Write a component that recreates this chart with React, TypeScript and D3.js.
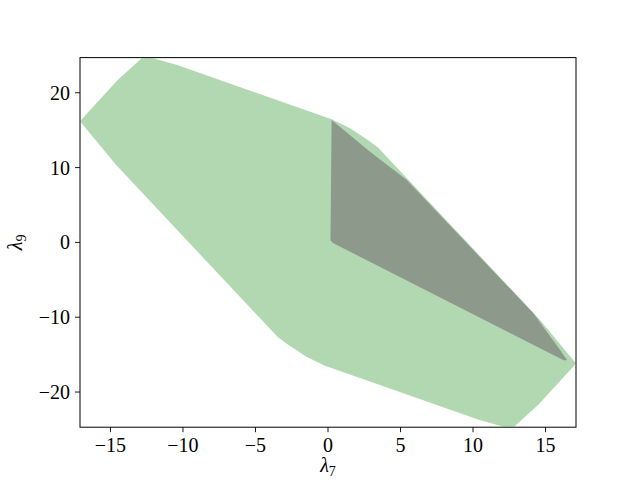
import React from "react";
import * as d3 from "d3";

const xTicks = [-15, -10, -5, 0, 5, 10, 15];
const yTicks = [-20, -10, 0, 10, 20];
const xDomain = [-17.1, 17.1];
const yDomain = [-24.7, 24.7];

// outer (feasible) region, green
const outerX = [-17.1, -16.4, -14.5, -12.85, -12.05, -10.4, 0.25, 1.52, 2.67, 3.45, 14.62, 17.1, 16.4, 14.5, 12.85, 12.05, 10.4, -0.25, -1.52, -2.67, -3.45, -14.62];
const outerY = [16.2, 17.7, 21.7, 24.6, 24.6, 23.7, 16.45, 15.25, 13.78, 12.69, -10.37, -16.2, -17.7, -21.7, -24.6, -24.6, -23.7, -16.45, -15.25, -13.78, -12.69, 10.37];

// inner region, gray
const innerX = [0.25, 2.9, 5.43, 14.16, 16.0, 16.48, 16.28, 0.34, 0.17];
const innerY = [16.36, 12.13, 8.34, -9.48, -14.39, -15.72, -15.79, -0.08, 0.3];

const W = 640, H = 480;
const L = 80, T = 57.6, PW = 496, PH = 369.6;
const FONT = "'Liberation Serif', 'DejaVu Serif', serif";

export default function App() {
  const x = d3.scaleLinear().domain(xDomain).range([L, L + PW]);
  const y = d3.scaleLinear().domain(yDomain).range([T + PH, T]);
  const line = d3.line<[number, number]>().x(d => x(d[0])).y(d => y(d[1]));
  const outerPts = outerX.map((v, i) => [v, outerY[i]] as [number, number]);
  const innerPts = innerX.map((v, i) => [v, innerY[i]] as [number, number]);
  const fmt = (v: number) => (v < 0 ? "\u2212" + Math.abs(v) : String(v));
  return (
    <svg width={W} height={H} style={{ position: "absolute", left: 0, top: 0, background: "#fff" }} fontFamily={FONT}>
      <defs>
        <clipPath id="plotclip">
          <rect x={L} y={T} width={PW} height={PH} />
        </clipPath>
      </defs>
      <g clipPath="url(#plotclip)">
        <path d={line(outerPts) + "Z"} fill="#b2d8b2" />
        <path d={line(innerPts) + "Z"} fill="#8d998b" />
      </g>
      <rect x={L} y={T} width={PW} height={PH} fill="none" stroke="#000" strokeWidth={1} />
      {xTicks.map(t => (
        <g key={"x" + t}>
          <line x1={x(t)} x2={x(t)} y1={T + PH} y2={T + PH + 5} stroke="#000" strokeWidth={0.9} />
          <text x={x(t)} y={T + PH + 25} fontSize={20} textAnchor="middle">{fmt(t)}</text>
        </g>
      ))}
      {yTicks.map(t => (
        <g key={"y" + t}>
          <line x1={L - 5} x2={L} y1={y(t)} y2={y(t)} stroke="#000" strokeWidth={0.9} />
          <text x={L - 10} y={y(t) + 7} fontSize={20} textAnchor="end">{fmt(t)}</text>
        </g>
      ))}
      <text x={L + PW / 2} y={472} fontSize={20} textAnchor="middle">
        <tspan fontStyle="italic">λ</tspan>
        <tspan fontSize={14} dy={4}>7</tspan>
      </text>
      <text transform={`translate(22, ${T + PH / 2}) rotate(-90)`} fontSize={20} textAnchor="middle">
        <tspan fontStyle="italic">λ</tspan>
        <tspan fontSize={14} dy={4}>9</tspan>
      </text>
    </svg>
  );
}
